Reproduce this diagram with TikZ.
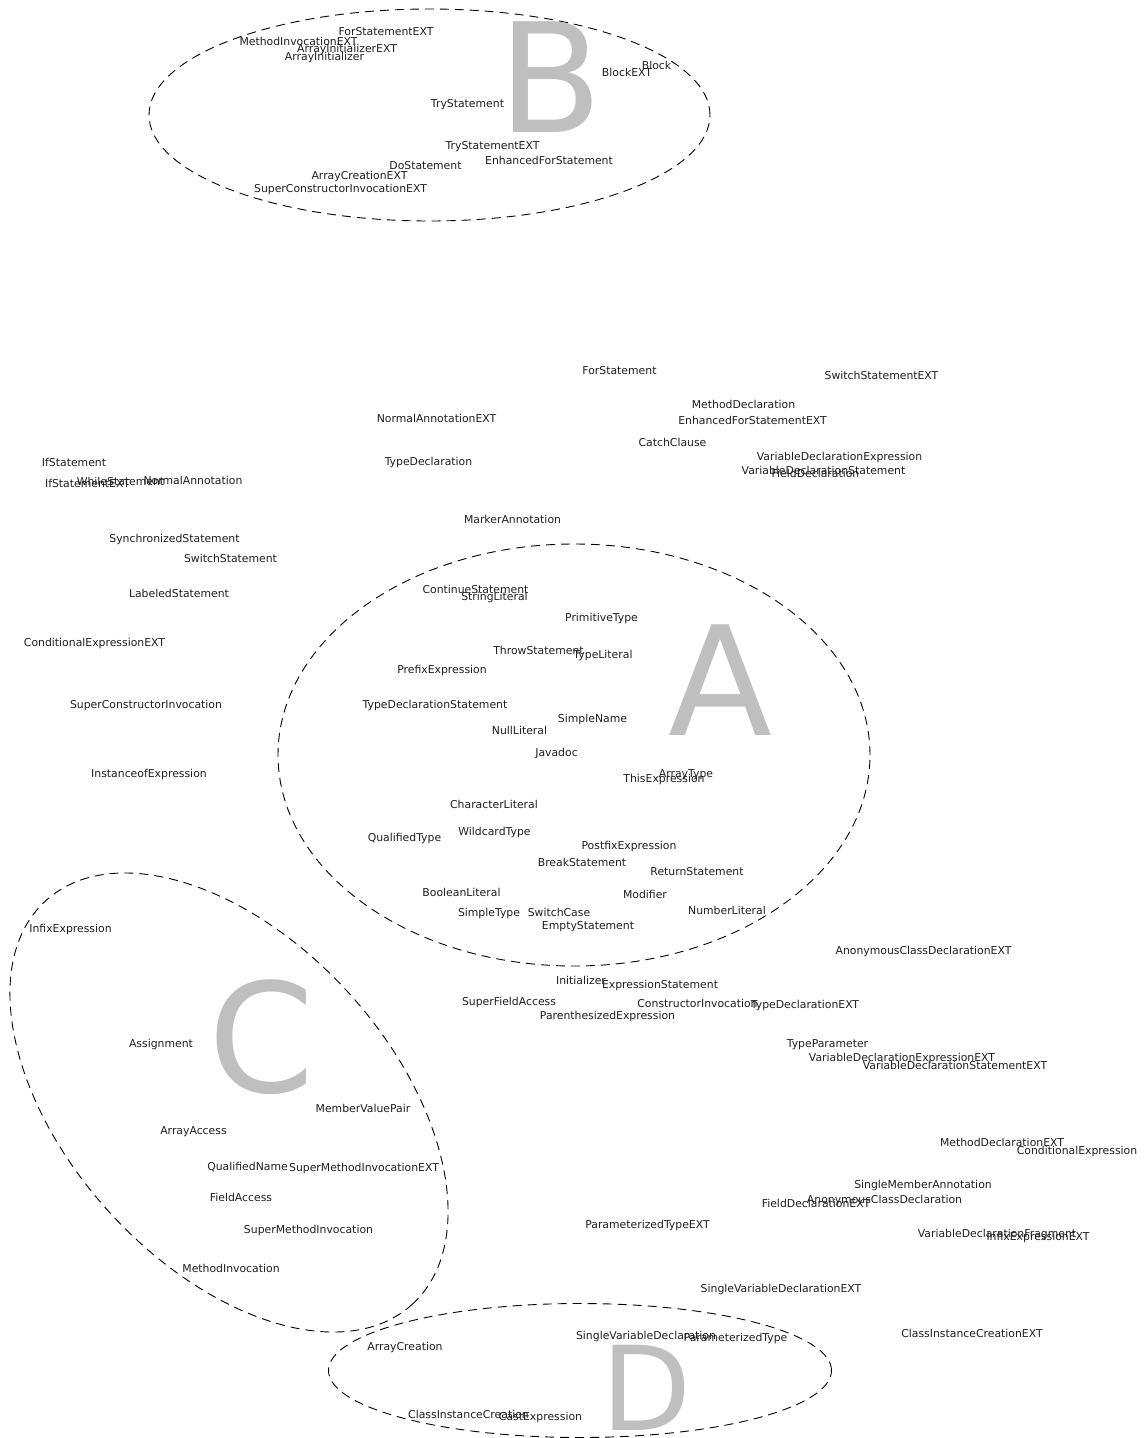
\documentclass[tikz,border=0pt]{standalone}
\usepackage{fontspec}
\setmainfont{DejaVu Sans}
\begin{document}
\begin{tikzpicture}[x=1pt,y=-1pt,
  lbl/.style={font=\fontsize{10.85}{13}\selectfont, text=black!88, inner sep=0pt, anchor=base},
  big/.style={font=\fontsize{152}{160}\selectfont, text=black!25, inner sep=0pt, anchor=base},
  region/.style={draw=black, line width=0.9pt, dash pattern=on 9pt off 6pt}]
\useasboundingbox (0,0) rectangle (1145,1438);
% region outlines
\draw[region] (574,755) ellipse [x radius=296pt, y radius=211pt];
\draw[region] (429.5,115) ellipse [x radius=280.5pt, y radius=106pt];
\draw[region, shift={(229,1102.5)}, rotate=-47.8] (0,0) ellipse [x radius=272.6pt, y radius=162.3pt];
\draw[region] (580,1370.5) ellipse [x radius=251.5pt, y radius=67pt];
% region letters
\node[big] (lA) at (720,735) {A};
\node[big] (lB) at (551,132) {B};
\node[big] (lC) at (262,1092) {C};
\node[big, font=\fontsize{117}{120}\selectfont] (lD) at (647,1430) {D};
% group B
\node[lbl] (n1) at (386,35) {ForStatementEXT};
\node[lbl] (n2) at (298.5,45) {MethodInvocationEXT};
\node[lbl] (n3) at (347,52) {ArrayInitializerEXT};
\node[lbl] (n4) at (324.5,60) {ArrayInitializer};
\node[lbl] (n5) at (656.5,69) {Block};
\node[lbl] (n6) at (627,76) {BlockEXT};
\node[lbl] (n7) at (467.5,107) {TryStatement};
\node[lbl] (n8) at (492.5,149) {TryStatementEXT};
\node[lbl] (n9) at (549,164) {EnhancedForStatement};
\node[lbl] (n10) at (425.5,169) {DoStatement};
\node[lbl] (n11) at (359.5,179) {ArrayCreationEXT};
\node[lbl] (n12) at (340.5,192) {SuperConstructorInvocationEXT};
% upper middle
\node[lbl] (n13) at (619.5,374) {ForStatement};
\node[lbl] (n14) at (881.5,379) {SwitchStatementEXT};
\node[lbl] (n15) at (743.5,408) {MethodDeclaration};
\node[lbl] (n16) at (436.5,422) {NormalAnnotationEXT};
\node[lbl] (n17) at (752.5,424) {EnhancedForStatementEXT};
\node[lbl] (n18) at (672.5,446) {CatchClause};
\node[lbl] (n19) at (839.5,460) {VariableDeclarationExpression};
\node[lbl] (n20) at (74,466) {IfStatement};
\node[lbl] (n21) at (428.5,465) {TypeDeclaration};
\node[lbl] (n22) at (823.5,474) {VariableDeclarationStatement};
\node[lbl] (n23) at (815.5,477) {FieldDeclaration};
\node[lbl] (n24) at (87.5,487) {IfStatementEXT};
\node[lbl] (n25) at (120.5,485) {WhileStatement};
\node[lbl] (n26) at (193,484) {NormalAnnotation};
\node[lbl] (n27) at (512.5,523) {MarkerAnnotation};
\node[lbl] (n28) at (174.5,542) {SynchronizedStatement};
\node[lbl] (n29) at (230.5,562) {SwitchStatement};
\node[lbl] (n30) at (179,597) {LabeledStatement};
% group A
\node[lbl] (n31) at (475.5,593) {ContinueStatement};
\node[lbl] (n32) at (494.5,600) {StringLiteral};
\node[lbl] (n33) at (601.5,621) {PrimitiveType};
\node[lbl] (n34) at (94.5,646) {ConditionalExpressionEXT};
\node[lbl] (n35) at (538.5,654) {ThrowStatement};
\node[lbl] (n36) at (603,658) {TypeLiteral};
\node[lbl] (n37) at (442,673) {PrefixExpression};
\node[lbl] (n38) at (146,708) {SuperConstructorInvocation};
\node[lbl] (n39) at (435,708) {TypeDeclarationStatement};
\node[lbl] (n40) at (592.5,722) {SimpleName};
\node[lbl] (n41) at (519.5,734) {NullLiteral};
\node[lbl] (n42) at (556.5,756) {Javadoc};
\node[lbl] (n43) at (149,777) {InstanceofExpression};
\node[lbl] (n44) at (686,777) {ArrayType};
\node[lbl] (n45) at (664,782) {ThisExpression};
\node[lbl] (n46) at (494,808) {CharacterLiteral};
\node[lbl] (n47) at (494.5,835) {WildcardType};
\node[lbl] (n48) at (404.5,841) {QualifiedType};
\node[lbl] (n49) at (629,849) {PostfixExpression};
\node[lbl] (n50) at (582,866) {BreakStatement};
\node[lbl] (n51) at (697,875) {ReturnStatement};
\node[lbl] (n52) at (461.5,896) {BooleanLiteral};
\node[lbl] (n53) at (645,898) {Modifier};
\node[lbl] (n54) at (727,914) {NumberLiteral};
\node[lbl] (n55) at (489,916) {SimpleType};
\node[lbl] (n56) at (559,916) {SwitchCase};
\node[lbl] (n57) at (588,929) {EmptyStatement};
% lower middle
\node[lbl] (n58) at (70.5,932) {InfixExpression};
\node[lbl] (n59) at (923.5,954) {AnonymousClassDeclarationEXT};
\node[lbl] (n60) at (581,984) {Initializer};
\node[lbl] (n61) at (660,988) {ExpressionStatement};
\node[lbl] (n62) at (509,1005) {SuperFieldAccess};
\node[lbl] (n63) at (697.5,1007) {ConstructorInvocation};
\node[lbl] (n64) at (805,1008) {TypeDeclarationEXT};
\node[lbl] (n65) at (607.5,1019) {ParenthesizedExpression};
\node[lbl] (n66) at (161,1047) {Assignment};
\node[lbl] (n67) at (827.5,1047) {TypeParameter};
\node[lbl] (n68) at (902,1061) {VariableDeclarationExpressionEXT};
\node[lbl] (n69) at (955,1069) {VariableDeclarationStatementEXT};
% group C
\node[lbl] (n70) at (363,1112) {MemberValuePair};
\node[lbl] (n71) at (193.5,1134) {ArrayAccess};
\node[lbl] (n72) at (1002,1146) {MethodDeclarationEXT};
\node[lbl] (n73) at (1077,1154) {ConditionalExpression};
\node[lbl] (n74) at (247.5,1170) {QualifiedName};
\node[lbl] (n75) at (364,1171) {SuperMethodInvocationEXT};
\node[lbl] (n76) at (923,1188) {SingleMemberAnnotation};
\node[lbl] (n77) at (241,1201) {FieldAccess};
\node[lbl] (n78) at (884.5,1203) {AnonymousClassDeclaration};
\node[lbl] (n79) at (816,1207) {FieldDeclarationEXT};
\node[lbl] (n80) at (647.5,1228) {ParameterizedTypeEXT};
\node[lbl] (n81) at (308.5,1233) {SuperMethodInvocation};
\node[lbl] (n82) at (997,1237) {VariableDeclarationFragment};
\node[lbl] (n83) at (1038,1240) {InfixExpressionEXT};
\node[lbl] (n84) at (231,1272) {MethodInvocation};
\node[lbl] (n85) at (781,1292) {SingleVariableDeclarationEXT};
% group D
\node[lbl] (n86) at (646,1339) {SingleVariableDeclaration};
\node[lbl] (n87) at (735.5,1341) {ParameterizedType};
\node[lbl] (n88) at (972,1337) {ClassInstanceCreationEXT};
\node[lbl] (n89) at (405,1350) {ArrayCreation};
\node[lbl] (n90) at (468.5,1418) {ClassInstanceCreation};
\node[lbl] (n91) at (540.5,1420) {CastExpression};
\end{tikzpicture}
\end{document}
